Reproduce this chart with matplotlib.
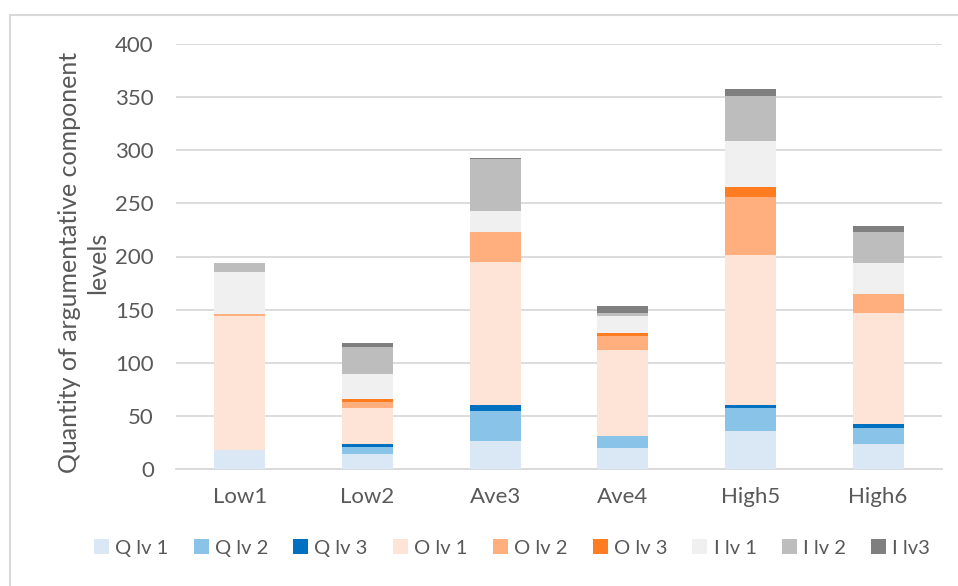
import numpy as np
import matplotlib.pyplot as plt
from matplotlib.patches import Rectangle

groups = ['Low1', 'Low2', 'Ave3', 'Ave4', 'High5', 'High6']
series = ['Q lv 1', 'Q lv 2', 'Q lv 3', 'O lv 1', 'O lv 2', 'O lv 3', 'I lv 1', 'I lv 2', 'I lv3']

q_lv1 = [18, 14, 26, 20, 36, 24]
q_lv2 = [0, 7, 29, 11, 21, 15]
q_lv3 = [0, 3, 5, 0, 3, 3]
o_lv1 = [126, 33, 135, 81, 141, 105]
o_lv2 = [2, 6, 28, 13, 55, 18]
o_lv3 = [0, 3, 0, 3, 9, 0]
i_lv1 = [39, 23, 20, 16, 44, 29]
i_lv2 = [9, 26, 49, 3, 42, 29]
i_lv3 = [0, 4, 1, 6, 7, 6]

colors = ['#DAE8F5', '#8AC3E8', '#0070C0', '#FDE4D7', '#FFAE7E', '#FF7C20',
          '#F0F0F0', '#BDBDBD', '#7F7F7F']

plt.rcParams['font.family'] = ['Lato', 'DejaVu Sans']
txt = '#595959'

fig = plt.figure(figsize=(9.58, 5.86), dpi=100)
ax = fig.add_axes([176/958, 1-469/586, (942-176)/958, (469-44)/586])

# outer chart frame
fig.patches.append(Rectangle((10/958, -0.1), 1.2, 1-15/586+0.1, transform=fig.transFigure,
                             fill=False, edgecolor='#D9D9D9', linewidth=1.5))

data = [q_lv1, q_lv2, q_lv3, o_lv1, o_lv2, o_lv3, i_lv1, i_lv2, i_lv3]
x = np.arange(len(groups))
bottom = np.zeros(len(groups))
for name, vals, c in zip(series, data, colors):
    ax.bar(x, vals, 0.4, bottom=bottom, color=c, label=name, zorder=3)
    bottom += np.array(vals)

ax.set_xlim(-0.5, len(groups) - 0.5)
ax.set_ylim(0, 400)
ax.set_yticks(range(0, 401, 50))
ax.set_xticks(x)
ax.set_xticklabels(groups)
ax.yaxis.grid(True, color='#D9D9D9', linewidth=1.3, zorder=0)
for s in ['top', 'right', 'left']:
    ax.spines[s].set_visible(False)
ax.spines['bottom'].set_color('#D9D9D9')
ax.spines['bottom'].set_linewidth(1.3)
ax.tick_params(axis='both', length=0, labelsize=16, colors=txt)
ax.tick_params(axis='y', pad=16)
ax.tick_params(axis='x', pad=13)

ax.set_ylabel('Quantity of argumentative component\nlevels', fontsize=18, color=txt,
              linespacing=1.25)
ax.yaxis.set_label_coords(-0.0875, 0.485)

fig.legend(loc='center', bbox_to_anchor=(512/958, 1-548/586), ncol=9, frameon=False,
           fontsize=14.5, labelcolor=txt, handlelength=0.75, handleheight=0.75,
           handletextpad=0.3, columnspacing=1.25)

fig.savefig('out.png', dpi=100)
